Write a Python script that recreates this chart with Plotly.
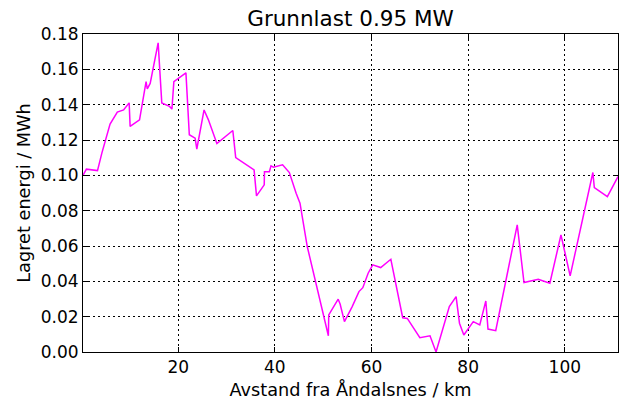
import plotly.graph_objects as go

# Distance along the route (km) and stored energy in the battery (MWh)
avstand_km = [
    0.3, 1.0, 3.3, 4.2, 5.9, 7.4, 8.7, 9.85, 10.05, 12.0,
    13.35, 13.6, 14.2, 15.85, 16.6, 18.2, 18.7, 19.1, 21.6, 22.3,
    23.5, 23.85, 25.35, 26.25, 28.0, 31.3, 31.9, 35.7, 36.2, 37.8,
    37.85, 38.86, 39.2, 39.7, 41.6, 43.0, 44.4, 45.2, 46.7, 48.3,
    51.07, 51.15, 53.1, 53.5, 54.4, 56.0, 57.4, 58.2, 59.3, 60.25,
    61.9, 64.0, 66.45, 67.4, 70.0, 72.1, 73.35, 76.1, 77.5, 78.2,
    79.1, 81.05, 82.4, 83.65, 84.1, 85.7, 90.15, 91.55, 94.5, 96.9,
    99.2, 101.1, 105.8, 106.1, 108.8, 111.0,
]
lagret_mwh = [
    0.100, 0.1035, 0.1027, 0.1126, 0.129, 0.1358, 0.137, 0.141, 0.1277, 0.1314,
    0.153, 0.149, 0.152, 0.175, 0.141, 0.139, 0.1375, 0.153, 0.158, 0.123,
    0.121, 0.1149, 0.137, 0.1314, 0.118, 0.1254, 0.110, 0.1031, 0.0884, 0.0946,
    0.102, 0.102, 0.1054, 0.1046, 0.106, 0.1016, 0.0899, 0.0842, 0.0597, 0.0408,
    0.0092, 0.021, 0.0299, 0.0272, 0.0172, 0.0257, 0.0342, 0.0364, 0.0446, 0.0493,
    0.0478, 0.0525, 0.0194, 0.019, 0.0081, 0.0092, 0.000, 0.0257, 0.0313, 0.0163,
    0.0096, 0.0172, 0.0153, 0.0289, 0.013, 0.0121, 0.072, 0.0393, 0.0412, 0.0389,
    0.0663, 0.0431, 0.1016, 0.0931, 0.088, 0.0993,
]

x_ticks = [20, 40, 60, 80, 100]
y_ticks = [0.00, 0.02, 0.04, 0.06, 0.08, 0.10, 0.12, 0.14, 0.16, 0.18]

FONT = "DejaVu Sans"

fig = go.Figure()
fig.add_trace(go.Scatter(
    x=avstand_km, y=lagret_mwh, mode="lines",
    line=dict(color="#ff00ff", width=1.5),
    showlegend=False, hoverinfo="skip",
))

axis_common = dict(
    showline=True, linecolor="black", linewidth=1, mirror="allticks",
    ticks="inside", ticklen=5, tickwidth=1, tickcolor="black",
    showgrid=True, gridcolor="black", gridwidth=1, griddash="2px,3px",
    zeroline=False, tickfont=dict(family=FONT, size=17, color="black"),
)

fig.update_xaxes(
    range=[0.3, 111], tickvals=x_ticks, ticktext=[str(v) for v in x_ticks],
    title=dict(text="Avstand fra Åndalsnes / km", standoff=7,
               font=dict(family=FONT, size=17.7, color="black")),
    **axis_common,
)
fig.update_yaxes(
    range=[0, 0.18], tickvals=y_ticks, ticktext=[f"{v:.2f}" for v in y_ticks],
    title=dict(text="Lagret energi / MWh", standoff=5,
               font=dict(family=FONT, size=17.7, color="black")),
    **axis_common,
)

fig.update_layout(
    width=620, height=401,
    margin=dict(l=83, r=2, t=34, b=49, autoexpand=False),
    paper_bgcolor="white", plot_bgcolor="white",
    font=dict(family=FONT, color="black"),
    title=dict(text="Grunnlast 0.95 MW", x=0.5, xref="paper",
               y=1 - 18 / 401, yref="container", yanchor="middle",
               font=dict(family=FONT, size=21.5, color="black")),
)

fig.write_html("out.html")
